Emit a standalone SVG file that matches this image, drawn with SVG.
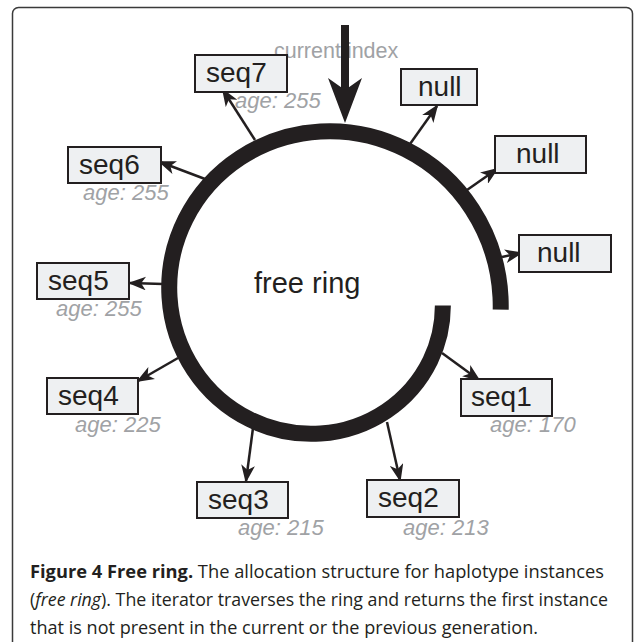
<svg xmlns="http://www.w3.org/2000/svg" width="635" height="642" viewBox="0 0 635 642">
<style>
.box{fill:#eef0f2;stroke:#231f20;stroke-width:2}
.lbl{font-family:"Liberation Sans",Arial,sans-serif;font-size:28px;fill:#231f20}
.age{font-family:"Liberation Sans",Arial,sans-serif;font-size:22px;font-style:italic;fill:#a0a2a5}
.con{stroke:#231f20;stroke-width:2.5;fill:none;marker-end:url(#ah)}
.cap{font-family:"Open Sans","Noto Sans",sans-serif;font-size:18px;fill:#231f20}
</style>
<defs>
<marker id="ah" markerUnits="userSpaceOnUse" markerWidth="18" markerHeight="14" refX="15" refY="6.5" orient="auto" viewBox="0 0 17 13">
<path d="M0,0 L17,6.5 L0,13 L4.5,6.5 Z" fill="#231f20"/>
</marker>
</defs>
<rect x="12.5" y="7.5" width="620" height="660" rx="6" fill="#fff" stroke="#3a3a3a" stroke-width="1.5"/>
<g id="ring">
<path d="M442.84,305.56 A124.7,124.7 0 0 1 430.34,360.42 A129.25,129.25 0 0 1 386.33,411.03 A134.1,134.1 0 0 1 320.5,433.5 A138.9,138.9 0 0 1 249.83,419.4 A143.75,143.75 0 0 1 193.92,370.08 A148.6,148.6 0 0 1 169.5,297 A153.4,153.4 0 0 1 185.55,219.08 A158.25,158.25 0 0 1 240.17,157.86 A163.1,163.1 0 0 1 320.5,131.5 A167.9,167.9 0 0 1 405.67,149.49 A172.75,172.75 0 0 1 472.2,209.42 A177.6,177.6 0 0 1 500.5,297 A180.3,180.3 0 0 1 500.7,309.6" fill="none" stroke="#231f20" stroke-width="16"/>
<text x="254" y="293" style="font-family:'Liberation Sans',Arial,sans-serif;font-size:29px;fill:#231f20">free ring</text>
</g>
<g id="current-index">
<text x="274" y="58" style="font-family:'Liberation Sans',Arial,sans-serif;font-size:21.5px;fill:#a0a2a5">current index</text>
<rect x="341" y="25" width="8" height="67" fill="#231f20"/>
<path d="M345,123 L328,78 L345,90 L362,78 Z" fill="#231f20"/>
</g>
<g id="connectors">
<line class="con" x1="255" y1="140" x2="223" y2="90"/>
<line class="con" x1="410" y1="144" x2="437" y2="106"/>
<line class="con" x1="467" y1="190" x2="497" y2="169"/>
<line class="con" x1="502" y1="257" x2="521" y2="253"/>
<line class="con" x1="205" y1="179" x2="160" y2="162"/>
<line class="con" x1="163" y1="284" x2="130" y2="283"/>
<line class="con" x1="178" y1="358" x2="138" y2="381"/>
<line class="con" x1="253" y1="428" x2="246" y2="481"/>
<line class="con" x1="387" y1="422" x2="400" y2="480"/>
<line class="con" x1="442" y1="353" x2="479" y2="380"/>
</g>
<g id="seq7"><rect class="box" x="195" y="55" width="92" height="37"/><text class="lbl" x="206" y="82">seq7</text><text class="age" x="235" y="108">age: 255</text></g>
<g id="null1"><rect class="box" x="401" y="69" width="76" height="36"/><text class="lbl" x="418" y="96">null</text></g>
<g id="null2"><rect class="box" x="495" y="136" width="91" height="37"/><text class="lbl" x="516" y="163">null</text></g>
<g id="null3"><rect class="box" x="519" y="235" width="92" height="37"/><text class="lbl" x="537" y="262">null</text></g>
<g id="seq6"><rect class="box" x="68" y="147" width="93" height="36"/><text class="lbl" x="79" y="174">seq6</text><text class="age" x="83" y="200">age: 255</text></g>
<g id="seq5"><rect class="box" x="37" y="263" width="92" height="36"/><text class="lbl" x="48" y="290">seq5</text><text class="age" x="56" y="316">age: 255</text></g>
<g id="seq4"><rect class="box" x="47" y="378" width="91" height="36"/><text class="lbl" x="58" y="405">seq4</text><text class="age" x="75" y="432">age: 225</text></g>
<g id="seq3"><rect class="box" x="197" y="482" width="91" height="36"/><text class="lbl" x="208" y="509">seq3</text><text class="age" x="238" y="535">age: 215</text></g>
<g id="seq2"><rect class="box" x="367" y="480" width="92" height="37"/><text class="lbl" x="378" y="507">seq2</text><text class="age" x="403" y="535">age: 213</text></g>
<g id="seq1"><rect class="box" x="461" y="379" width="91" height="37"/><text class="lbl" x="471" y="406">seq1</text><text class="age" x="490" y="432">age: 170</text></g>
<g id="caption">
<text class="cap" x="30" y="578" textLength="574" lengthAdjust="spacingAndGlyphs"><tspan font-weight="bold">Figure 4 Free ring.</tspan> The allocation structure for haplotype instances</text>
<text class="cap" x="30" y="606" textLength="578" lengthAdjust="spacingAndGlyphs">(<tspan font-style="italic">free ring</tspan>). The iterator traverses the ring and returns the first instance</text>
<text class="cap" x="30" y="634" textLength="508" lengthAdjust="spacingAndGlyphs">that is not present in the current or the previous generation.</text>
</g>
</svg>
